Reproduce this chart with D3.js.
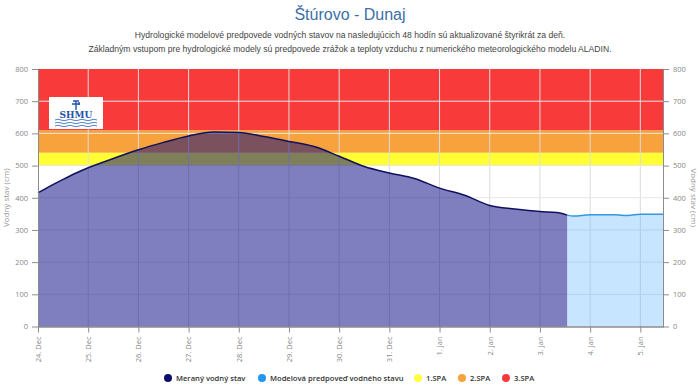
<!DOCTYPE html>
<html>
<head>
<meta charset="utf-8">
<script src="https://cdn.jsdelivr.net/npm/d3@7"></script>
<style>
  body { margin: 0; background: #fff; }
  svg { display: block; font-family: "Liberation Sans", Arial, sans-serif; }
</style>
</head>
<body>
<div id="chart"></div>
<script>
// measured water level (cm)
const measuredTimes = ['2022-12-24T00:00', '2022-12-24T06:00', '2022-12-24T12:00', '2022-12-24T18:00',
  '2022-12-25T00:00', '2022-12-25T12:00', '2022-12-26T00:00', '2022-12-26T12:00',
  '2022-12-27T00:00', '2022-12-27T12:00', '2022-12-28T00:00', '2022-12-28T12:00',
  '2022-12-29T00:00', '2022-12-29T12:00', '2022-12-30T00:00', '2022-12-30T12:00',
  '2022-12-31T00:00', '2022-12-31T12:00', '2023-01-01T00:00', '2023-01-01T12:00',
  '2023-01-02T00:00', '2023-01-02T12:00', '2023-01-03T00:00', '2023-01-03T08:00',
  '2023-01-03T13:00'];
const measuredValues = [415, 437, 457, 476, 493, 522, 549, 572, 592, 604, 603, 590,
  575, 559, 529, 497, 477, 460, 430, 408, 376, 365, 357, 354, 346];

// model forecast
const forecastTimes = ['2023-01-03T13:00', '2023-01-03T16:00', '2023-01-04T00:00',
  '2023-01-04T12:00', '2023-01-04T18:00', '2023-01-05T00:00', '2023-01-05T10:50'];
const forecastValues = [346, 343, 347, 347, 345, 349, 349];

// flood activity levels (SPA)
const spaNames = ['1.SPA', '2.SPA', '3.SPA'];
const spaFrom = [500, 540, 610];
const spaTo = [540, 610, 800];
const spaColors = ['#ffff33', '#f7a23c', '#f93a3a'];

const yTicks = [0, 100, 200, 300, 400, 500, 600, 700, 800];
const domainStart = '2022-12-24T00:00';
const domainEnd = '2023-01-05T10:50';

const width = 700, height = 386;
const margin = { top: 69, right: 37, bottom: 60, left: 38 };
const w = width - margin.left - margin.right;
const h = 326.5 - margin.top;

const parse = d3.utcParse('%Y-%m-%dT%H:%M');
const monthNames = ['Jan', 'Feb', 'Mar', 'Apr', 'May', 'Jun', 'Jul', 'Aug', 'Sep', 'Oct', 'Nov', 'Dec'];
const fmt = d => d.getUTCDate() + '. ' + monthNames[d.getUTCMonth()];

const measured = measuredTimes.map((t, i) => ({ t: parse(t), v: measuredValues[i] }));
const forecast = forecastTimes.map((t, i) => ({ t: parse(t), v: forecastValues[i] }));

const x = d3.scaleUtc().domain([parse(domainStart), parse(domainEnd)]).range([0, w]);
const y = d3.scaleLinear().domain([0, 800]).range([h, 0]);
const dayTicks = d3.utcDay.range(parse(domainStart), parse(domainEnd));

const svg = d3.select('#chart').append('svg')
  .attr('width', width).attr('height', height);

// title + subtitle
svg.append('text').attr('x', width / 2).attr('y', 20).attr('text-anchor', 'middle')
  .style('font-size', '16px').style('fill', '#3b6fa6').text('Štúrovo - Dunaj');
svg.append('text').attr('x', width / 2).attr('y', 38).attr('text-anchor', 'middle')
  .style('font-size', '8.6px').style('fill', '#444')
  .text('Hydrologické modelové predpovede vodných stavov na nasledujúcich 48 hodín sú aktualizované štyrikrát za deň.');
svg.append('text').attr('x', width / 2).attr('y', 52).attr('text-anchor', 'middle')
  .style('font-size', '8.6px').style('fill', '#444')
  .text('Základným vstupom pre hydrologické modely sú predpovede zrážok a teploty vzduchu z numerického meteorologického modelu ALADIN.');

const g = svg.append('g').attr('transform', 'translate(' + margin.left + ',' + margin.top + ')');

// plot bands
g.selectAll('rect.band')
  .data(spaNames)
  .join('rect')
  .attr('class', 'band')
  .attr('x', 0).attr('width', w)
  .attr('y', (d, i) => y(spaTo[i]))
  .attr('height', (d, i) => y(spaFrom[i]) - y(spaTo[i]))
  .style('fill', (d, i) => spaColors[i]);

// grid lines
g.append('g').selectAll('line')
  .data(dayTicks.slice(1))
  .join('line')
  .attr('x1', d => x(d)).attr('x2', d => x(d))
  .attr('y1', 0).attr('y2', h)
  .style('stroke', '#dcdcdc').style('stroke-width', 1);
g.append('g').selectAll('line')
  .data(yTicks.slice(1, -1))
  .join('line')
  .attr('x1', 0).attr('x2', w)
  .attr('y1', d => y(d)).attr('y2', d => y(d))
  .style('stroke', '#e6e6e6').style('stroke-width', 1);

// areas and lines
const area = d3.area().x(d => x(d.t)).y0(h).y1(d => y(d.v)).curve(d3.curveMonotoneX);
const line = d3.line().x(d => x(d.t)).y(d => y(d.v)).curve(d3.curveMonotoneX);

g.append('path').datum(forecast).attr('d', area)
  .style('fill', '#1e96ff').style('fill-opacity', 0.25);
g.append('path').datum(forecast).attr('d', line)
  .style('fill', 'none').style('stroke', '#3198e0').style('stroke-width', 1.5);

g.append('path').datum(measured).attr('d', area)
  .style('fill', '#000080').style('fill-opacity', 0.5);
g.append('path').datum(measured).attr('d', line)
  .style('fill', 'none').style('stroke', '#10105e').style('stroke-width', 1.5);

// axes
const axisColor = '#8c8c8c';
const styleAxis = sel => {
  sel.select('.domain').style('stroke', axisColor);
  sel.selectAll('.tick line').style('stroke', axisColor);
  sel.selectAll('.tick text').style('fill', '#888').style('font-size', '7.5px')
    .style('font-family', '"Open Sans", sans-serif');
};

g.append('g').call(d3.axisLeft(y).tickValues(yTicks).tickSize(6).tickSizeOuter(0).tickPadding(4))
  .call(styleAxis);
g.append('g').attr('transform', 'translate(' + w + ',0)')
  .call(d3.axisRight(y).tickValues(yTicks).tickSize(6).tickSizeOuter(0).tickPadding(4))
  .call(styleAxis);
const xAx = g.append('g').attr('transform', 'translate(0,' + h + ')')
  .call(d3.axisBottom(x).tickValues(dayTicks).tickFormat(fmt).tickSize(6).tickSizeOuter(0))
  .call(styleAxis);
xAx.select('.domain').style('stroke', '#555');
xAx.selectAll('.tick text')
  .attr('transform', 'rotate(-90)')
  .attr('x', -10).attr('y', 0).attr('dy', '0.32em')
  .style('text-anchor', 'end');

// axis titles
svg.append('text').attr('transform', 'translate(9,' + (margin.top + h / 2) + ') rotate(-90)')
  .attr('text-anchor', 'middle').style('font-size', '8px').style('fill', '#999')
  .style('font-family', '"Open Sans", sans-serif').text('Vodný stav (cm)');
svg.append('text').attr('transform', 'translate(691,' + (margin.top + h / 2) + ') rotate(90)')
  .attr('text-anchor', 'middle').style('font-size', '8px').style('fill', '#999')
  .style('font-family', '"Open Sans", sans-serif').text('Vodný stav (cm)');

// SHMU logo
const logo = svg.append('g').attr('transform', 'translate(49,97)');
logo.append('rect').attr('width', 54).attr('height', 32).style('fill', '#fff');
logo.append('path').attr('d', 'M24,4 h6 M27,4 v9 M23,7 h8 M30,5 v3')
  .style('stroke', '#2553a8').style('stroke-width', 1.4).style('fill', 'none');
logo.append('text').attr('x', 27).attr('y', 21).attr('text-anchor', 'middle')
  .style('font-family', '"DejaVu Serif", serif').style('font-weight', 'bold')
  .style('font-size', '9px').style('fill', '#2553a8').text('SHMU');
[23, 26, 29].forEach(yy => {
  logo.append('path')
    .attr('d', 'M6,' + yy + ' q3,-1.5 6,0 t6,0 t6,0 t6,0 t6,0 t6,0 t6,0')
    .style('stroke', '#3a6fc0').style('stroke-width', 0.9).style('fill', 'none');
});

// legend
const legendNames = ['Meraný vodný stav', 'Modelová predpoveď vodného stavu'].concat(spaNames);
const legendColors = ['#0d0d6e', '#2196f3'].concat(spaColors.map(c => c === '#ffff33' ? '#ffff44' : c));
const legendX = [168, 262, 418, 462, 506];
const legend = svg.append('g').attr('transform', 'translate(0,378)');
legend.selectAll('circle')
  .data(legendNames)
  .join('circle')
  .attr('cx', (d, i) => legendX[i]).attr('cy', 0).attr('r', 4)
  .style('fill', (d, i) => legendColors[i]);
legend.selectAll('text')
  .data(legendNames)
  .join('text')
  .attr('x', (d, i) => legendX[i] + 8).attr('y', 0).attr('dy', '0.35em')
  .style('font-family', '"Open Sans", sans-serif').style('font-size', '7.6px')
  .style('font-weight', 600).style('fill', '#333')
  .text(d => d);
</script>
</body>
</html>
